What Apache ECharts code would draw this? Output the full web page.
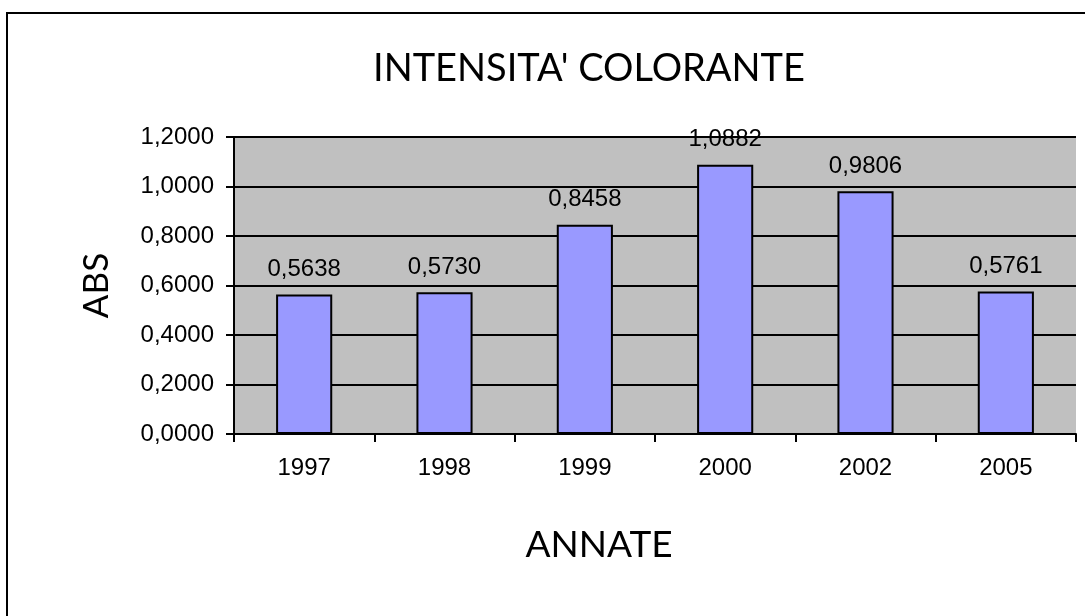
<!DOCTYPE html>
<html>
<head>
<meta charset="utf-8">
<script src="https://cdn.jsdelivr.net/npm/echarts@6/dist/echarts.min.js"></script>
<style>
html, body { margin: 0; padding: 0; background: #fff; }
#main { width: 1085px; height: 616px; }
</style>
</head>
<body>
<div id="main"></div>
<script>
// dati
var annate = ['1997', '1998', '1999', '2000', '2002', '2005']
var abs = [0.5638, 0.5730, 0.8458, 1.0882, 0.9806, 0.5761]

var fmt = function (v) {
  return Number(v).toFixed(4).replace('.', ',')
}

var chart = echarts.init(document.getElementById('main'))
chart.setOption({
  animation: false,
  backgroundColor: '#ffffff',
  title: [
    {
      text: "INTENSITA' COLORANTE",
      left: 584,
      top: 64,
      textAlign: 'center',
      textVerticalAlign: 'middle',
      textStyle: { fontFamily: 'Lato', fontWeight: 'normal', fontSize: 38, color: '#000' }
    },
    {
      text: 'ANNATE',
      left: 594,
      top: 540,
      textAlign: 'center',
      textVerticalAlign: 'middle',
      textStyle: { fontFamily: 'Lato', fontWeight: 'normal', fontSize: 37, color: '#000' }
    }
  ],
  graphic: [
    {
      type: 'rect',
      shape: { x: 7, y: 13, width: 1200, height: 700 },
      style: { fill: 'none', stroke: '#000', lineWidth: 2 },
      z: 100
    }
  ],
  grid: {
    left: 234,
    right: 9,
    top: 137,
    bottom: 182,
    show: true,
    backgroundColor: '#c0c0c0',
    borderWidth: 0
  },
  xAxis: {
    type: 'category',
    data: annate,
    axisLine: { lineStyle: { color: '#000', width: 2 } },
    axisTick: { show: true, alignWithLabel: false, length: 8, lineStyle: { color: '#000', width: 2 } },
    axisLabel: { color: '#000', fontFamily: 'Liberation Sans', fontSize: 24, margin: 22 },
    splitLine: { show: false }
  },
  yAxis: {
    type: 'value',
    min: 0,
    max: 1.2,
    interval: 0.2,
    name: 'ABS',
    nameLocation: 'middle',
    nameRotate: 90,
    nameGap: 120,
    nameTextStyle: { fontFamily: 'Lato', fontSize: 35, color: '#000' },
    axisLine: { show: true, lineStyle: { color: '#000', width: 2 } },
    axisTick: { show: true, length: 8, lineStyle: { color: '#000', width: 2 } },
    axisLabel: { color: '#000', fontFamily: 'Liberation Sans', fontSize: 24, margin: 20, formatter: fmt },
    splitLine: { show: true, lineStyle: { color: '#000', width: 2 } }
  },
  series: [
    {
      type: 'bar',
      data: abs,
      barWidth: '40%',
      itemStyle: { color: '#9999ff', borderColor: '#000', borderWidth: 2 },
      label: {
        show: true,
        position: 'top',
        distance: 13,
        color: '#000',
        fontFamily: 'Liberation Sans',
        fontSize: 24,
        formatter: function (p) { return fmt(p.value) }
      }
    }
  ]
})
</script>
</body>
</html>
